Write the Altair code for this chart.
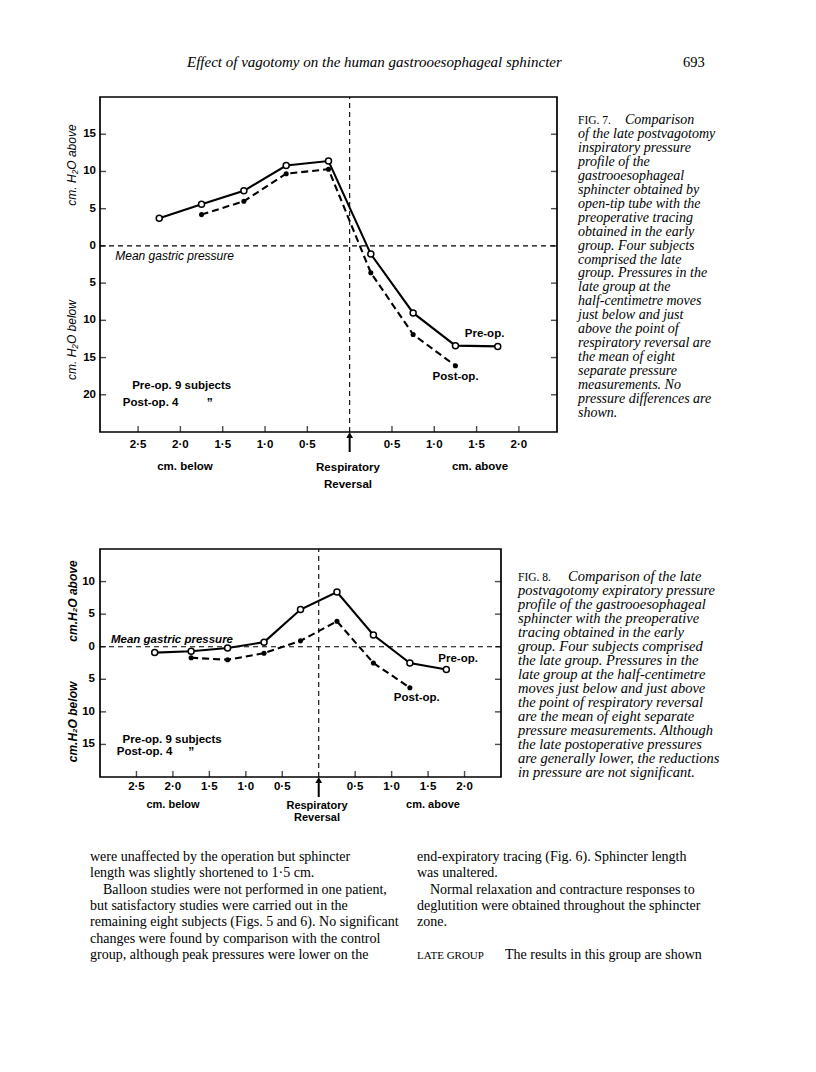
import altair as alt
import pandas as pd

# ---------------- Fig. 7 : inspiratory pressure profile ----------------
fig7_pos_pre = [-2.25, -1.75, -1.25, -0.75, -0.25, 0.25, 0.75, 1.25, 1.75]
fig7_pre = [3.7, 5.6, 7.4, 10.8, 11.4, -1.1, -9.0, -13.4, -13.5]
fig7_pos_post = [-1.75, -1.25, -0.75, -0.25, 0.25, 0.75, 1.25]
fig7_post = [4.2, 6.0, 9.7, 10.3, -3.6, -11.9, -16.1]
fig7_y_ticks = [-20, -15, -10, -5, 0, 5, 10, 15]
fig7_x_domain = [-2.95, 2.45]
fig7_y_domain = [-25, 20]

# ---------------- Fig. 8 : expiratory pressure profile ----------------
fig8_pos_pre = [-2.25, -1.75, -1.25, -0.75, -0.25, 0.25, 0.75, 1.25, 1.75]
fig8_pre = [-0.9, -0.7, -0.2, 0.7, 5.7, 8.4, 1.8, -2.5, -3.5]
fig8_pos_post = [-1.75, -1.25, -0.75, -0.25, 0.25, 0.75, 1.25]
fig8_post = [-1.7, -2.0, -1.0, 0.9, 3.9, -2.5, -6.3]
fig8_y_ticks = [-15, -10, -5, 0, 5, 10]
fig8_x_domain = [-3.0, 2.5]
fig8_y_domain = [-20, 15]

x_ticks = [-2.5, -2.0, -1.5, -1.0, -0.5, 0.5, 1.0, 1.5, 2.0]

# ---------------- texts ----------------
header_title = "Effect of vagotomy on the human gastrooesophageal sphincter"
header_page = "693"

caption7_lines = [
    "of the late postvagotomy",
    "inspiratory pressure",
    "profile of the",
    "gastrooesophageal",
    "sphincter obtained by",
    "open-tip tube with the",
    "preoperative tracing",
    "obtained in the early",
    "group. Four subjects",
    "comprised the late",
    "group. Pressures in the",
    "late group at the",
    "half-centimetre moves",
    "just below and just",
    "above the point of",
    "respiratory reversal are",
    "the mean of eight",
    "separate pressure",
    "measurements. No",
    "pressure differences are",
    "shown.",
]
caption8_lines = [
    "postvagotomy expiratory pressure",
    "profile of the gastrooesophageal",
    "sphincter with the preoperative",
    "tracing obtained in the early",
    "group. Four subjects comprised",
    "the late group. Pressures in the",
    "late group at the half-centimetre",
    "moves just below and just above",
    "the point of respiratory reversal",
    "are the mean of eight separate",
    "pressure measurements. Although",
    "the late postoperative pressures",
    "are generally lower, the reductions",
    "in pressure are not significant.",
]
body_left_a = ["were unaffected by the operation but sphincter",
               "length was slightly shortened to 1·5 cm."]
body_left_b = ["Balloon studies were not performed in one patient,"]
body_left_c = ["but satisfactory studies were carried out in the",
               "remaining eight subjects (Figs. 5 and 6). No significant",
               "changes were found by comparison with the control",
               "group, although peak pressures were lower on the"]
body_right_a = ["end-expiratory tracing (Fig. 6). Sphincter length",
                "was unaltered."]
body_right_b = ["Normal relaxation and contracture responses to"]
body_right_c = ["deglutition were obtained throughout the sphincter",
                "zone."]
body_right_d = "The results in this group are shown"

W, H = 800, 1056
SANS = "Liberation Sans"
SERIF = "Liberation Serif"
one = pd.DataFrame({"k": [0]})


def txt(lines, x, y, size, font=SERIF, style="normal", weight="normal",
        align="left", baseline="alphabetic", lh=None, angle=None):
    props = dict(text=lines, font=font, fontSize=size, fontStyle=style,
                 fontWeight=weight, align=align, baseline=baseline, color="black")
    if lh is not None:
        props["lineHeight"] = lh
    if angle is not None:
        props["angle"] = angle
    return alt.Chart(one).mark_text(**props).encode(x=alt.value(x), y=alt.value(y))


def build_figure(pos_pre, pre, pos_post, post, y_ticks, x_dom, y_dom, x_rng, y_rng,
                 xlab_pad, ylab_pad, notes, arrow):
    xs = alt.Scale(domain=x_dom, range=x_rng, nice=False, zero=False)
    ys = alt.Scale(domain=y_dom, range=y_rng, nice=False, zero=False)

    def XD(v):
        return alt.XDatum(v, scale=xs, axis=None)

    def YD(v):
        return alt.YDatum(v, scale=ys, axis=None)

    XF = lambda f: alt.X(f"{f}:Q", scale=xs, axis=None)
    YF = lambda f: alt.Y(f"{f}:Q", scale=ys, axis=None)

    df_pre = pd.DataFrame({"x": pos_pre, "y": pre})
    df_post = pd.DataFrame({"x": pos_post, "y": post})
    df_yt = pd.DataFrame({"v": y_ticks})
    df_xt = pd.DataFrame({"v": x_ticks})

    frame = alt.Chart(one).mark_rect(fillOpacity=0, stroke="black", strokeWidth=1.7).encode(
        x=XD(x_dom[0]), x2=alt.X2Datum(x_dom[1]), y=YD(y_dom[0]), y2=alt.Y2Datum(y_dom[1]))
    vrule = alt.Chart(one).mark_rule(strokeDash=[5, 4], strokeWidth=1.1, color="black").encode(
        x=XD(0), y=YD(y_dom[0]), y2=alt.Y2Datum(y_dom[1]))
    hrule = alt.Chart(one).mark_rule(strokeDash=[5, 4], strokeWidth=1.1, color="black").encode(
        y=YD(0), x=XD(x_dom[0]), x2=alt.X2Datum(x_dom[1]))

    # inward ticks on left, right and bottom edges of the frame
    lticks = alt.Chart(df_yt).mark_tick(orient="horizontal", size=6, thickness=1.4,
                                        xOffset=3, color="black").encode(
        x=XD(x_dom[0]), y=YF("v"))
    rticks = alt.Chart(df_yt).mark_tick(orient="horizontal", size=6, thickness=1.4,
                                        xOffset=-3, color="black").encode(
        x=XD(x_dom[1]), y=YF("v"))
    bticks = alt.Chart(df_xt).mark_tick(orient="vertical", size=6, thickness=1.4,
                                        yOffset=-3, color="black").encode(
        x=XF("v"), y=YD(y_dom[0]))

    # tick labels (axis labels)
    ylabels = alt.Chart(df_yt).transform_calculate(
        lab="'' + abs(datum.v)"
    ).mark_text(align="right", baseline="middle", dx=-ylab_pad, font=SANS,
                fontWeight="bold", fontSize=11.5, color="black").encode(
        x=XD(x_dom[0]), y=YF("v"), text="lab:N")
    xlabels = alt.Chart(df_xt).transform_calculate(
        lab="replace(format(abs(datum.v), '.1f'), '.', '·')"
    ).mark_text(align="center", baseline="top", dy=xlab_pad, font=SANS,
                fontWeight="bold", fontSize=11.5, color="black").encode(
        x=XF("v"), y=YD(y_dom[0]), text="lab:N")

    enc = dict(x=XF("x"), y=YF("y"))
    pre_line = alt.Chart(df_pre).mark_line(color="black", strokeWidth=2.1).encode(**enc)
    post_line = alt.Chart(df_post).mark_line(color="black", strokeWidth=2.1,
                                             strokeDash=[7, 4]).encode(**enc)
    pre_pts = alt.Chart(df_pre).mark_point(shape="circle", filled=True, fill="white",
                                           stroke="black", strokeWidth=1.5, size=36,
                                           opacity=1).encode(**enc)
    post_pts = alt.Chart(df_post).mark_circle(color="black", size=26, opacity=1).encode(**enc)

    layers = [frame, vrule, hrule, lticks, rticks, bticks, ylabels, xlabels,
              pre_line, post_line, pre_pts, post_pts]
    for (t, xv, yv, size, style, weight) in notes:
        layers.append(alt.Chart(one).mark_text(
            text=t, font=SANS, fontSize=size, fontStyle=style, fontWeight=weight,
            align="left", baseline="middle", color="black").encode(x=XD(xv), y=YD(yv)))

    # respiratory reversal arrow
    a_tip, a_end = arrow
    layers.append(alt.Chart(one).mark_rule(color="black", strokeWidth=2).encode(
        x=XD(0), y=alt.value(a_tip + 2), y2=alt.value(a_end)))
    layers.append(alt.Chart(one).mark_point(shape="triangle-up", filled=True, color="black",
                                            size=45, opacity=1).encode(
        x=XD(0), y=alt.value(a_tip)))
    return alt.layer(*layers)


fig7 = build_figure(
    fig7_pos_pre, fig7_pre, fig7_pos_post, fig7_post, fig7_y_ticks,
    fig7_x_domain, fig7_y_domain, [92, 549], [424, 89], 7, 4,
    [("Mean gastric pressure", -2.77, -1.3, 12, "italic", "normal"),
     ("Pre-op.", 1.36, -11.8, 11.5, "normal", "bold"),
     ("Post-op.", 0.98, -17.6, 11.5, "normal", "bold"),
     ("Pre-op. 9 subjects", -2.57, -18.8, 11.5, "normal", "bold"),
     ("Post-op. 4", -2.68, -21.1, 11.5, "normal", "bold"),
     ("”", -1.69, -21.1, 12, "normal", "bold")],
    (427, 444))

fig8 = build_figure(
    fig8_pos_pre, fig8_pre, fig8_pos_post, fig8_post, fig8_y_ticks,
    fig8_x_domain, fig8_y_domain, [92, 493], [769, 541], 4, 5,
    [("Mean gastric pressure", -2.85, 1.1, 11.5, "italic", "bold"),
     ("Pre-op.", 1.64, -1.9, 11.5, "normal", "bold"),
     ("Post-op.", 1.03, -7.9, 11.5, "normal", "bold"),
     ("Pre-op. 9 subjects", -2.69, -14.3, 11.5, "normal", "bold"),
     ("Post-op. 4", -2.77, -16.2, 11.5, "normal", "bold"),
     ("”", -1.79, -16.2, 12, "normal", "bold")],
    (772, 789))

texts = [
    # running header
    txt(header_title, 179, 59, 15, style="italic"),
    txt(header_page, 675, 59, 14.5),
    # fig 7 axis annotations
    txt("cm. H₂O above", 64, 157, 12, font=SANS, style="italic", align="center",
        baseline="middle", angle=270),
    txt("cm. H₂O below", 64, 332, 12, font=SANS, style="italic", align="center",
        baseline="middle", angle=270),
    txt("cm. below", 177, 459, 11.5, font=SANS, weight="bold", align="center", baseline="middle"),
    txt(["Respiratory", "Reversal"], 340, 463, 11.5, font=SANS, weight="bold",
        align="center", lh=17),
    txt("cm. above", 472, 459, 11.5, font=SANS, weight="bold", align="center", baseline="middle"),
    # fig 8 axis annotations
    txt("cm.H₂O above", 65, 593, 12, font=SANS, style="italic", weight="bold",
        align="center", baseline="middle", angle=270),
    txt("cm.H₂O below", 65, 714, 12, font=SANS, style="italic", weight="bold",
        align="center", baseline="middle", angle=270),
    txt("cm. below", 165, 797, 11, font=SANS, weight="bold", align="center", baseline="middle"),
    txt(["Respiratory", "Reversal"], 309, 801, 11, font=SANS, weight="bold",
        align="center", lh=12),
    txt("cm. above", 425, 797, 11, font=SANS, weight="bold", align="center", baseline="middle"),
    # caption fig 7
    txt("FIG. 7.", 570, 116, 11.5),
    txt("Comparison", 617, 116, 14, style="italic"),
    txt(caption7_lines, 570, 130, 14, style="italic", lh=13.95),
    # caption fig 8
    txt("FIG. 8.", 510, 573, 11.5),
    txt("Comparison of the late", 560, 573, 14.5, style="italic"),
    txt(caption8_lines, 510, 587, 14.5, style="italic", lh=14),
    # body text
    txt(body_left_a, 82, 853, 14, lh=16.33),
    txt(body_left_b, 95, 885.7, 14),
    txt(body_left_c, 82, 902, 14, lh=16.33),
    txt(body_right_a, 409, 853, 14, lh=16.33),
    txt(body_right_b, 422, 885.7, 14),
    txt(body_right_c, 409, 902, 14, lh=16.33),
    txt("LATE GROUP", 409, 951, 11),
    txt(body_right_d, 497, 951, 14),
]

chart = alt.layer(fig7, fig8, *texts).resolve_scale(
    x="independent", y="independent"
).properties(
    width=W, height=H, padding=0, autosize=alt.AutoSizeParams(type="none")
).configure_view(strokeWidth=0)

chart.save("out.html", embed_options={"renderer": "svg", "actions": False})
